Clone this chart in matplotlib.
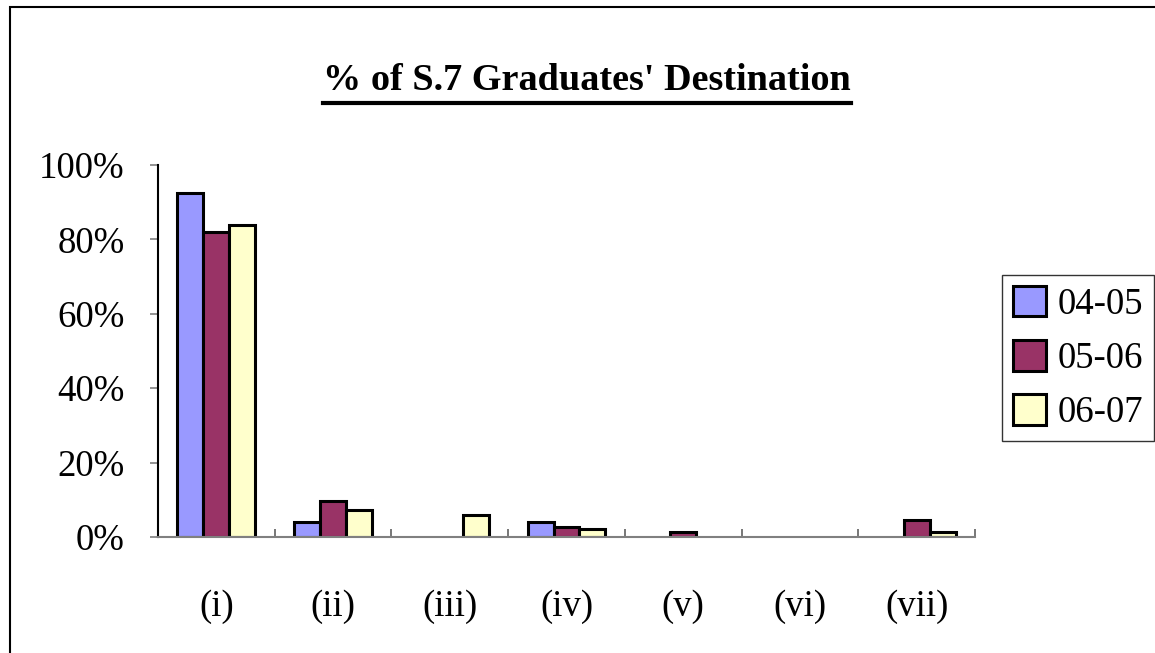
import matplotlib.pyplot as plt
import numpy as np
from matplotlib.ticker import PercentFormatter, FixedLocator
from matplotlib.patches import Rectangle
from matplotlib.lines import Line2D

# data (percent of graduates)
categories = ['(i)', '(ii)', '(iii)', '(iv)', '(v)', '(vi)', '(vii)']
years = ['04-05', '05-06', '06-07']
pct_0405 = [92.4, 3.9, 0, 3.9, 0, 0, 0]
pct_0506 = [81.9, 9.8, 0, 2.7, 1.4, 0, 4.7]
pct_0607 = [83.9, 7.2, 6.0, 2.1, 0, 0, 1.4]
colors = ['#9999FF', '#993366', '#FFFFCC']

plt.rcParams['font.family'] = ['Liberation Serif', 'DejaVu Serif']

fig = plt.figure(figsize=(11.55, 6.53), dpi=100)
ax = fig.add_axes([158/1155, 1-537/653, (975-158)/1155, (537-165)/653])

x = np.arange(len(categories))
w = 0.222
for i, (vals, lab, c) in enumerate(zip([pct_0405, pct_0506, pct_0607], years, colors)):
    bars = ax.bar(x + (i-1)*w, vals, w, color=c, edgecolor='black', linewidth=2.2, label=lab)
    for b, v in zip(bars, vals):
        if v == 0:
            b.set_visible(False)

ax.set_xlim(-0.5, len(categories)-0.5)
ax.set_ylim(0, 100)
ax.yaxis.set_major_formatter(PercentFormatter(100, decimals=0))
ax.set_yticks([0, 20, 40, 60, 80, 100])
ax.tick_params(axis='y', direction='out', length=6, width=1.2, color='#808080',
               labelsize=26.5, pad=18)

ax.set_xticks(x)
ax.set_xticklabels(categories)
ax.xaxis.set_minor_locator(FixedLocator(np.arange(len(categories)+1) - 0.5))
ax.tick_params(axis='x', which='major', length=0, labelsize=26.5, pad=38)
ax.tick_params(axis='x', which='minor', direction='in', length=6, width=1.2, color='#606060')

for s in ['top', 'right']:
    ax.spines[s].set_visible(False)
ax.spines['left'].set_color('black')
ax.spines['left'].set_linewidth(1.5)
ax.spines['bottom'].set_color('#808080')
ax.spines['bottom'].set_linewidth(1.5)

leg = fig.legend(loc='center', bbox_to_anchor=(1078/1155, 1-358/653), fontsize=26.5,
                 frameon=True, fancybox=False, edgecolor='black', handlelength=0.9,
                 handleheight=0.9, handletextpad=0.3, labelspacing=0.5,
                 borderpad=0.3, borderaxespad=0)
leg.get_frame().set_linewidth(1.0)

title = fig.text(587/1155, 1-81/653, "% of S.7 Graduates' Destination", ha='center', va='center',
                 fontsize=27.5, fontweight='bold')

# underline the title
fig.canvas.draw()
bb = title.get_window_extent().transformed(fig.transFigure.inverted())
fig.add_artist(Line2D([bb.x0, bb.x1], [1-103/653, 1-103/653], color='black', linewidth=3,
                      transform=fig.transFigure))

# outer chart border
fig.add_artist(Rectangle((10/1155, -0.1), 1.2, 1.1-7/653, fill=False, edgecolor='black',
                         linewidth=1.5, transform=fig.transFigure))

plt.savefig('out.png', dpi=100)
